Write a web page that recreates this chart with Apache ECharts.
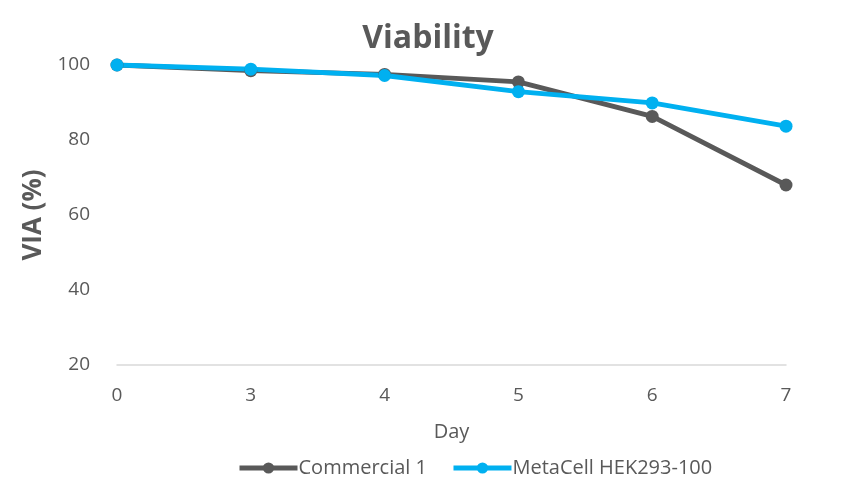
<!DOCTYPE html>
<html>
<head>
<meta charset="utf-8">
<script src="https://cdn.jsdelivr.net/npm/echarts@6/dist/echarts.min.js"></script>
<style>
html,body{margin:0;padding:0;background:#fff;}
#main{width:856px;height:497px;}
</style>
</head>
<body>
<div id="main"></div>
<script>
// 数据
var days = ['0', '3', '4', '5', '6', '7'];
var commercial1 = [100, 98.5, 97.5, 95.5, 86.3, 68];
var metaCell = [100, 98.9, 97.2, 92.9, 89.9, 83.7];
var yTicks = [20, 40, 60, 80, 100];

var myChart = echarts.init(document.getElementById('main'));

var textColor = '#595959';

var option = {
    title: {
        text: 'Viability',
        left: 'center',
        top: 18,
        textStyle: { fontFamily: 'Open Sans', fontSize: 32, fontWeight: 'bold', color: textColor }
    },
    legend: {
        bottom: 14,
        left: 232,
        itemWidth: 58,
        itemHeight: 14,
        itemGap: 24,
        lineStyle: { width: 5 },
        textStyle: { fontFamily: 'Open Sans', fontSize: 20, color: textColor, padding: [0, 0, 0, -4] },
        data: ['Commercial 1', 'MetaCell HEK293-100']
    },
    grid: { left: 117, right: 70, top: 65, bottom: 132 },
    xAxis: {
        type: 'category',
        data: days,
        boundaryGap: false,
        name: 'Day',
        nameLocation: 'middle',
        nameGap: 57,
        nameTextStyle: { fontFamily: 'Open Sans', fontSize: 20, color: textColor },
        axisLine: { lineStyle: { color: '#d9d9d9', width: 1.5 } },
        axisTick: { show: false },
        axisLabel: { fontFamily: 'Open Sans', fontSize: 19, color: textColor, margin: 21 }
    },
    yAxis: {
        type: 'value',
        min: yTicks[0],
        max: yTicks[yTicks.length - 1],
        interval: 20,
        name: 'VIA (%)',
        nameLocation: 'middle',
        nameGap: 68,
        nameTextStyle: { fontFamily: 'Open Sans', fontSize: 26, fontWeight: 'bold', color: textColor },
        axisLine: { show: false },
        axisTick: { show: false },
        splitLine: { show: false },
        axisLabel: { fontFamily: 'Open Sans', fontSize: 19, color: textColor, margin: 27 }
    },
    series: [
        {
            name: 'Commercial 1',
            type: 'line',
            data: commercial1,
            symbol: 'circle',
            symbolSize: 13,
            lineStyle: { width: 5, color: '#595959' },
            itemStyle: { color: '#595959' }
        },
        {
            name: 'MetaCell HEK293-100',
            type: 'line',
            data: metaCell,
            symbol: 'circle',
            symbolSize: 13,
            lineStyle: { width: 5, color: '#00B0F0' },
            itemStyle: { color: '#00B0F0' }
        }
    ]
};

myChart.setOption(option);
</script>
</body>
</html>
